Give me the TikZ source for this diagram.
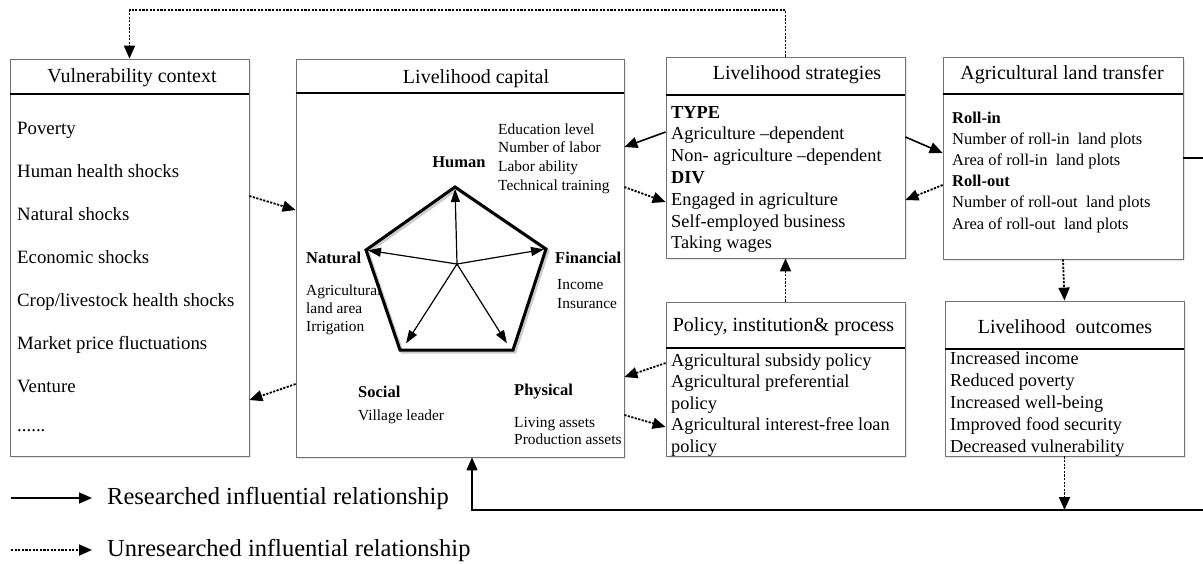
\documentclass[tikz,border=0pt]{standalone}
\usepackage{fontspec}
\setmainfont{Liberation Serif}
\usetikzlibrary{arrows.meta,shadows}
\begin{document}
\begin{tikzpicture}[x=1pt,y=-1pt,
  box/.style={draw=black!55, line width=0.8pt, fill=white, inner sep=0pt,
    drop shadow={shadow xshift=1.5pt, shadow yshift=-1.5pt, opacity=0.3, fill=blue!20!black!30}},
  hrule/.style={line width=1.5pt},
  hdr/.style={font=\fontsize{20}{22}\selectfont, inner sep=0pt},
  vitem/.style={font=\fontsize{18.8}{20}\selectfont, inner sep=0pt, anchor=base west},
  item/.style={font=\fontsize{18.3}{20}\selectfont, inner sep=0pt, anchor=base west},
  litem/.style={font=\fontsize{16.5}{20}\selectfont, inner sep=0pt, anchor=base west},
  smallitem/.style={font=\fontsize{15.4}{16}\selectfont, inner sep=0pt, anchor=base west},
  capname/.style={font=\fontsize{16.5}{17}\selectfont\bfseries, inner sep=0pt},
  legendtext/.style={font=\fontsize{24.5}{26}\selectfont, inner sep=0pt, anchor=west},
  mytip/.style={-{Triangle[length=13pt,width=11pt]}},
  solidarrow/.style={line width=1.6pt, mytip},
  dotarrow/.style={line width=1.8pt, dash pattern=on 2.2pt off 1.4pt, mytip},
  spoke/.style={line width=1.2pt, -{Triangle[length=13pt,width=9pt]}, shorten >=2pt},
]
\clip (0,0) rectangle (1203,563);
\fill[white] (0,0) rectangle (1203,563);

% ---------- boxes ----------
\node[box, minimum width=239pt, minimum height=397pt] (vc) at (129.5,257.5) {};
\node[box, minimum width=328pt, minimum height=398pt] (lc) at (460,258) {};
\node[box, minimum width=239pt, minimum height=201pt] (st) at (785.5,157.5) {};
\node[box, minimum width=239pt, minimum height=154pt] (po) at (785.5,379) {};
\node[box, minimum width=240pt, minimum height=202pt] (lt) at (1063,158) {};
\node[box, minimum width=239pt, minimum height=155pt] (lo) at (1064.5,378.5) {};

\draw[hrule] (vc.west |- 0,94) -- (vc.east |- 0,94);
\draw[hrule] (lc.west |- 0,93) -- (lc.east |- 0,93);
\draw[hrule] (st.west |- 0,95) -- (st.east |- 0,95);
\draw[hrule] (po.west |- 0,348) -- (po.east |- 0,348);
\draw[hrule] (lt.west |- 0,94) -- (lt.east |- 0,94);
\draw[hrule] (lo.west |- 0,349) -- (lo.east |- 0,349);

% ---------- headers ----------
\node[hdr] (vch) at (132,78) {Vulnerability context};
\node[hdr] (lch) at (476,79) {Livelihood capital};
\node[hdr] (sth) at (797,75) {Livelihood strategies};
\node[hdr] (poh) at (783.5,327) {Policy, institution\& process};
\node[hdr] (lth) at (1062,75) {Agricultural land transfer};
\node[hdr] (loh) at (1065,327) {Livelihood\ \ outcomes};

% ---------- vulnerability items ----------
\foreach \t [count=\i] in {Poverty, Human health shocks, Natural shocks, Economic shocks,
  Crop/livestock health shocks, Market price fluctuations, Venture}
  \node[vitem] (vi\i) at (17,{128+43*(\i-1)+6}) {\t};
\node[vitem] (vi8) at (17,431) {......};

% ---------- livelihood strategies ----------
\foreach \t [count=\i] in {\textbf{TYPE}, Agriculture --dependent, Non- agriculture --dependent,
  \textbf{DIV}, Engaged in agriculture, Self-employed business, Taking wages}
  \node[item] (si\i) at (671,{112+21.8*(\i-1)+6}) {\t};

% ---------- policy ----------
\foreach \t [count=\i] in {Agricultural subsidy policy, Agricultural preferential, policy,
  Agricultural interest-free loan, policy}
  \node[item] (pi\i) at (671,{360+21.5*(\i-1)+6}) {\t};

% ---------- land transfer ----------
\foreach \t [count=\i] in {\textbf{Roll-in}, Number of roll-in\ \ land plots, Area of roll-in\ \ land plots,
  \textbf{Roll-out}, Number of roll-out\ \ land plots, Area of roll-out\ \ land plots}
  \node[litem] (ti\i) at (952,{118+21.2*(\i-1)+5}) {\t};

% ---------- outcomes ----------
\foreach \t [count=\i] in {Increased income, Reduced poverty, Increased well-being,
  Improved food security, Decreased vulnerability}
  \node[item] (oi\i) at (950,{358+22.2*(\i-1)+6}) {\t};

% ---------- livelihood capital content ----------
\coordinate (pT) at (455,187);
\coordinate (pR) at (546,249);
\coordinate (pBR) at (513,350);
\coordinate (pBL) at (400,350);
\coordinate (pL) at (366,250);
\coordinate (pC) at (457,264);
\draw[line width=3pt, black!20, line join=miter] ([shift={(2,2)}]pT) -- ([shift={(2,2)}]pR) -- ([shift={(2,2)}]pBR) -- ([shift={(2,2)}]pBL) -- ([shift={(2,2)}]pL) -- cycle;
\draw[line width=3pt, line join=miter] (pT) -- (pR) -- (pBR) -- (pBL) -- (pL) -- cycle;
\draw[spoke] (pC) -- (pT);
\draw[spoke] (pC) -- (pR);
\draw[spoke] (pC) -- (pL);
\draw[spoke] (pC) -- (405,345);
\draw[spoke] (pC) -- (508,345);

\node[capname] (hum) at (459,162) {Human};
\node[capname, anchor=west] (nat) at (306,258) {Natural};
\node[capname, anchor=west] (fin) at (555,258) {Financial};
\node[capname, anchor=west] (soc) at (358,392) {Social};
\node[capname, anchor=west] (phy) at (514,392) {Physical};

\foreach \t [count=\i] in {Education level, Number of labor, Labor ability, Technical training}
  \node[smallitem] (hu\i) at (498,{129+18.7*(\i-1)+5}) {\t};
\foreach \t [count=\i] in {Agricultural, land area, Irrigation}
  \node[smallitem] (na\i) at (306,{290+18*(\i-1)+5}) {\t};
\foreach \t [count=\i] in {Income, Insurance}
  \node[smallitem] (fi\i) at (557,{284+19*(\i-1)+5}) {\t};
\node[smallitem] (so1) at (358,420) {Village leader};
\foreach \t [count=\i] in {Living assets, Production assets}
  \node[smallitem] (ph\i) at (514,{422+17.5*(\i-1)+5}) {\t};

% ---------- connectors ----------
\draw[dotarrow] (st.north) -- (st.north |- 0,10) -| (vc.north);
\draw[dotarrow] (vc.east |- 0,196) -- (lc.west |- 0,210);
\draw[dotarrow] (lc.west |- 0,384) -- (vc.east |- 0,400);
\draw[solidarrow] (st.west |- 0,132) -- (lc.east |- 0,147);
\draw[dotarrow] (lc.east |- 0,187) -- (st.west |- 0,202);
\draw[solidarrow] (st.east |- 0,137) -- (lt.west |- 0,153);
\draw[dotarrow] (lt.west |- 0,185) -- (st.east |- 0,200);
\draw[dotarrow] (po.north) -- (st.south);
\draw[dotarrow] (po.west |- 0,363) -- (lc.east |- 0,377);
\draw[dotarrow] (lc.east |- 0,415) -- (po.west |- 0,427);
\draw[dotarrow] (lt.south) -- (lo.north);
\coordinate (loopR) at (1212,510);
\coordinate (loopL) at (472,510);
\draw[solidarrow] (lt.east |- 0,158) -| (loopR) -- (loopL) -- (lc.south -| loopL);
\draw[dotarrow] (lo.south) -- (lo.south |- loopL);

% ---------- legend ----------
\coordinate (l1a) at (11,498);
\coordinate (l1b) at (92,498);
\coordinate (l2a) at (11,550);
\coordinate (l2b) at (92,550);
\draw[solidarrow] (l1a) -- (l1b);
\draw[dotarrow] (l2a) -- (l2b);
\node[legendtext] (leg1) at (107,498) {Researched influential relationship};
\node[legendtext] (leg2) at (107,550) {Unresearched influential relationship};
\end{tikzpicture}
\end{document}
